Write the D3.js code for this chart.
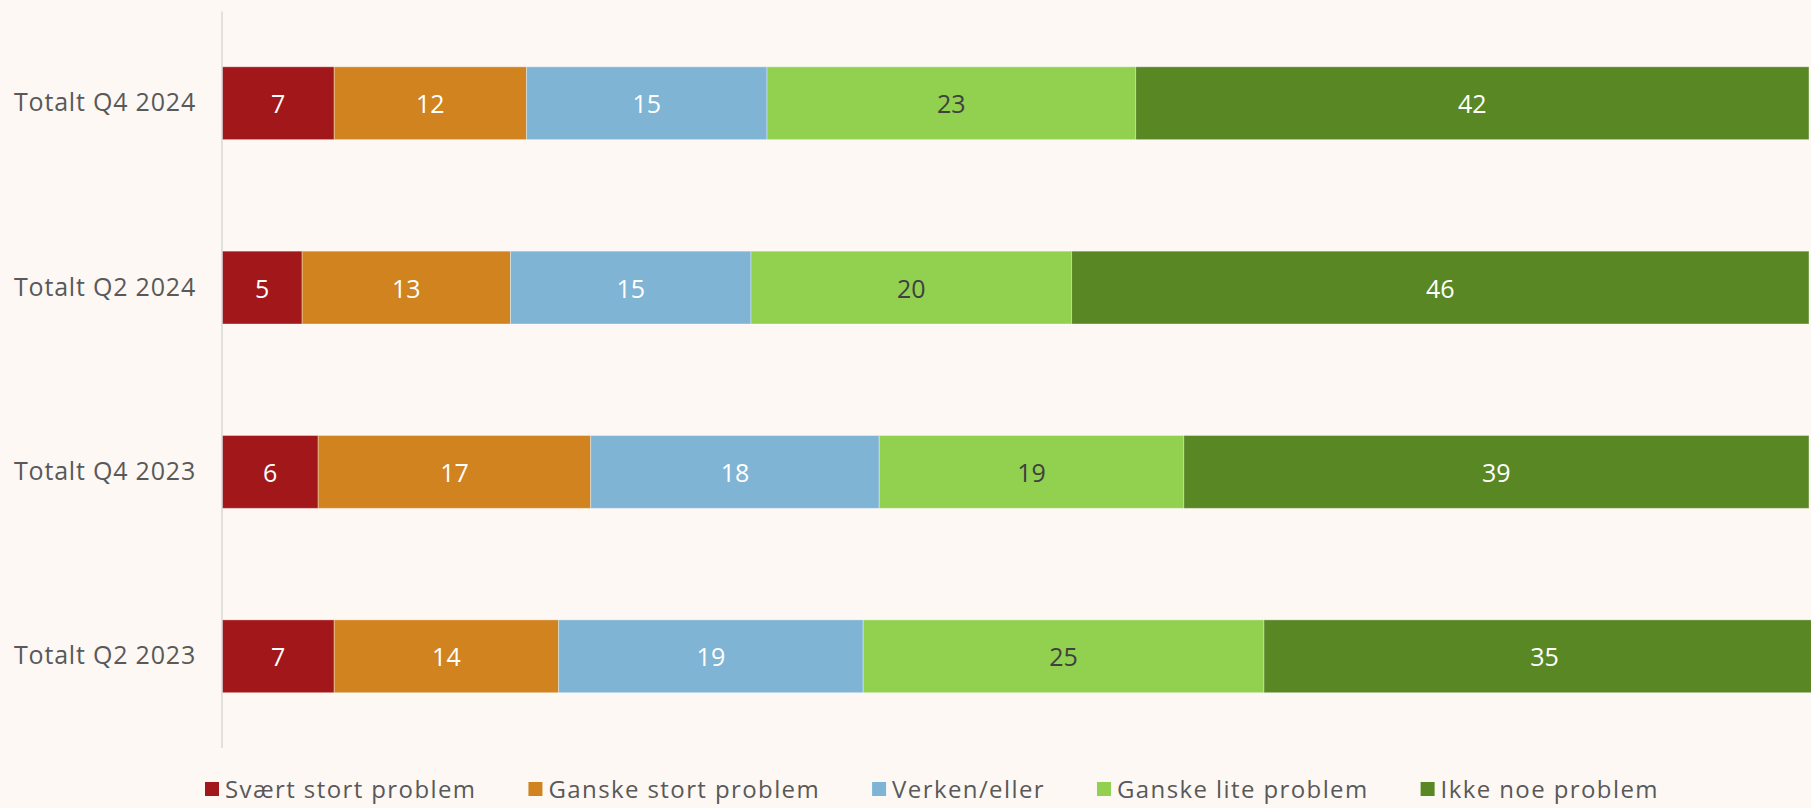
<!DOCTYPE html>
<html>
<head>
<meta charset="utf-8">
<script src="https://cdn.jsdelivr.net/npm/d3@7"></script>
<style>
  html, body { margin: 0; padding: 0; background: #fdf8f4; overflow: hidden; }
  svg { display: block; font-family: "Open Sans", sans-serif; }
</style>
</head>
<body>
<div id="wrapper"></div>
<script>
// data
const categories = ["Totalt Q4 2024", "Totalt Q2 2024", "Totalt Q4 2023", "Totalt Q2 2023"]
const seriesNames = ["Svært stort problem", "Ganske stort problem", "Verken/eller", "Ganske lite problem", "Ikke noe problem"]
const sværtStort = [7, 5, 6, 7]
const ganskeStort = [12, 13, 17, 14]
const verkenEller = [15, 15, 18, 19]
const ganskeLite = [23, 20, 19, 25]
const ikkeNoe = [42, 46, 39, 35]
const seriesColors = ["#a2171a", "#d0831f", "#7fb4d4", "#92d050", "#588724"]
const labelColors = ["#ffffff", "#ffffff", "#ffffff", "#404040", "#ffffff"]

const seriesValues = [sværtStort, ganskeStort, verkenEller, ganskeLite, ikkeNoe]

const width = 1811
const height = 808

const wrapper = d3.select("#wrapper").append("svg")
    .attr("width", width)
    .attr("height", height)

wrapper.append("rect").attr("width", width).attr("height", height).attr("fill", "#fdf8f4")

// build rows for stacking
const rows = categories.map((c, i) => {
    const row = { category: c }
    seriesNames.forEach((s, j) => row[s] = seriesValues[j][i])
    return row
})
const stacked = d3.stack().keys(seriesNames)(rows)

// scales
const xScaler = d3.scaleLinear()
    .domain([0, 100])
    .range([222, 1825])
const yScaler = d3.scaleBand()
    .domain(categories)
    .range([11.5, 748])
    .paddingInner(0.605)
    .paddingOuter(0.3)

// bars
const layers = wrapper.append("g").selectAll("g")
    .data(stacked)
    .join("g")
    .attr("fill", (d, i) => seriesColors[i])

layers.selectAll("rect")
    .data(d => d)
    .join("rect")
    .attr("x", d => xScaler(d[0]))
    .attr("y", d => yScaler(d.data.category))
    .attr("width", d => xScaler(d[1]) - xScaler(d[0]))
    .attr("height", yScaler.bandwidth())
    .attr("stroke", "#ffffff")
    .attr("stroke-opacity", 0.35)
    .attr("stroke-width", 1)

// value labels
layers.selectAll("text")
    .data(d => d)
    .join("text")
    .attr("x", d => (xScaler(d[0]) + xScaler(d[1])) / 2)
    .attr("y", d => yScaler(d.data.category) + yScaler.bandwidth() / 2)
    .attr("text-anchor", "middle")
    .attr("dominant-baseline", "central")
    .attr("font-size", 25)
    .attr("fill", function () { return labelColors[stacked.indexOf(d3.select(this.parentNode).datum())] })
    .text(d => d[1] - d[0])

// y axis
const yAxis = wrapper.append("g")
    .attr("transform", `translate(${xScaler(0)},0)`)
    .call(d3.axisLeft(yScaler).tickSize(0).tickPadding(26))
yAxis.select(".domain").attr("stroke", "#d9d9d9").attr("stroke-width", 1.5)
    .attr("d", `M0,${yScaler.range()[0]}V${yScaler.range()[1]}`)
yAxis.selectAll("text")
    .attr("font-size", 25)
    .attr("letter-spacing", "0.8px")
    .attr("font-family", "Open Sans, sans-serif")
    .attr("fill", "#595959")

// legend
const legend = wrapper.append("g").attr("transform", "translate(0,788)")
let legendX = 205
seriesNames.forEach((s, i) => {
    const item = legend.append("g").attr("transform", `translate(${legendX},0)`)
    item.append("rect")
        .attr("x", 0).attr("y", -6)
        .attr("width", 14).attr("height", 14)
        .attr("fill", seriesColors[i])
    const t = item.append("text")
        .attr("x", 20)
        .attr("y", 0)
        .attr("dominant-baseline", "central")
        .attr("font-size", 24)
        .attr("letter-spacing", "1.4px")
        .attr("fill", "#595959")
        .text(s)
    legendX += 20 + t.node().getComputedTextLength() + 52
})
</script>
</body>
</html>
